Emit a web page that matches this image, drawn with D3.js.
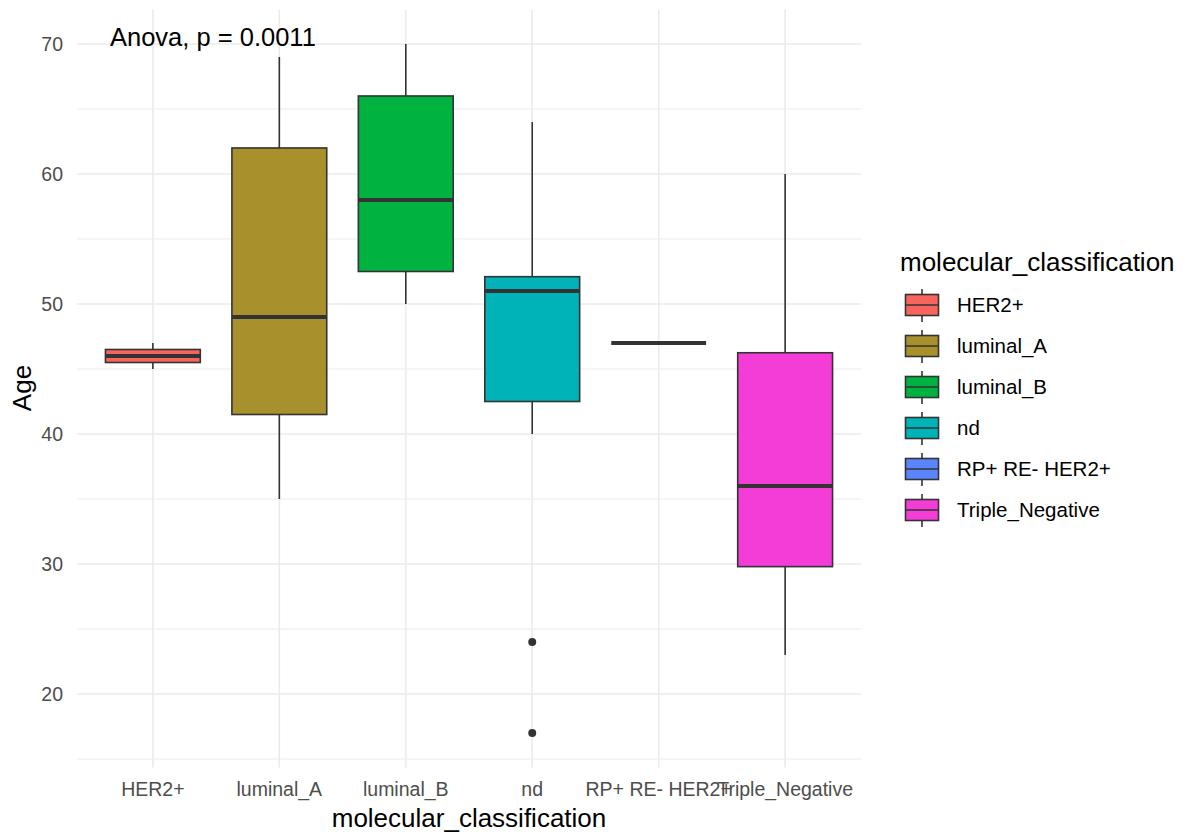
<!DOCTYPE html>
<html><head><meta charset="utf-8">
<script src="https://cdn.jsdelivr.net/npm/d3@7"></script>
<style>body{margin:0;background:#fff;font-family:"Liberation Sans",Arial,sans-serif;}</style>
</head><body><svg id="c" width="1194" height="835"></svg>
<script>
const categories = ["HER2+","luminal_A","luminal_B","nd","RP+ RE- HER2+","Triple_Negative"];
const colors = ["#F8655F","#A8912C","#00B240","#00B3B8","#5B85FF","#F43CD6"];
const ymin = [45, 35, 50, 40, 47, 23];
const q1 = [45.5, 41.5, 52.5, 42.5, 47, 29.8];
const median = [46, 49, 58, 51, 47, 36];
const q3 = [46.5, 62, 66, 52.1, 47, 46.25];
const ymax = [47, 69, 70, 64, 47, 60];
const outliers = [{cat:"nd", v:24},{cat:"nd", v:17}];
const yTicks = [20,30,40,50,60,70];
const annotation = "Anova, p = 0.0011";

const svg = d3.select("#c");
const L = 77, R = 861, T = 9.5, B = 767.5;
const x = d3.scalePoint().domain(categories).range([L,R]).padding(0.6);
const step = x.step();
const xc = d => x(d);
const y = d3.scaleLinear().domain([14.35,72.65]).range([B,T]);
const bw = step*0.75;

// grid
const g = svg.append("g");
const minor = d3.range(15,75,10);
g.selectAll(".mn").data(minor).join("line").attr("x1",L).attr("x2",R)
  .attr("y1",d=>y(d)).attr("y2",d=>y(d)).attr("stroke","#ebebeb").attr("stroke-width",1);
g.selectAll(".mj").data(yTicks).join("line").attr("x1",L).attr("x2",R)
  .attr("y1",d=>y(d)).attr("y2",d=>y(d)).attr("stroke","#ebebeb").attr("stroke-width",1.6);
g.selectAll(".vx").data(categories).join("line").attr("x1",d=>xc(d)).attr("x2",d=>xc(d))
  .attr("y1",T).attr("y2",B).attr("stroke","#ebebeb").attr("stroke-width",1.6);

// y axis labels
svg.append("g").selectAll("text").data(yTicks).join("text")
  .attr("x",63).attr("y",d=>y(d)).attr("dy","0.35em").attr("text-anchor","end")
  .attr("font-size",19.5).attr("fill","#4d4d4d").text(d=>d);
// x labels
svg.append("g").selectAll("text").data(categories).join("text")
  .attr("x",d=>xc(d)).attr("y",796).attr("text-anchor","middle")
  .attr("font-size",19.5).attr("fill","#4d4d4d").text(d=>d);
svg.append("text").attr("x",469).attr("y",827).attr("text-anchor","middle")
  .attr("font-size",26).attr("fill","#000").text("molecular_classification");
svg.append("text").attr("transform","translate(31,388) rotate(-90)").attr("text-anchor","middle")
  .attr("font-size",26).attr("fill","#000").text("Age");

// boxes
const data = categories.map((c,i)=>({c,col:colors[i],lo:ymin[i],q1:q1[i],md:median[i],q3:q3[i],hi:ymax[i]}));
const bx = svg.append("g");
data.forEach(d=>{
  const cx = xc(d.c);
  bx.append("line").attr("x1",cx).attr("x2",cx).attr("y1",y(d.hi)).attr("y2",y(d.q3)).attr("stroke","#333").attr("stroke-width",1.6);
  bx.append("line").attr("x1",cx).attr("x2",cx).attr("y1",y(d.q1)).attr("y2",y(d.lo)).attr("stroke","#333").attr("stroke-width",1.6);
  bx.append("rect").attr("x",cx-bw/2).attr("width",bw).attr("y",y(d.q3)).attr("height",Math.max(0,y(d.q1)-y(d.q3)))
    .attr("fill",d.col).attr("stroke","#333").attr("stroke-width",1.6);
  bx.append("line").attr("x1",cx-bw/2).attr("x2",cx+bw/2).attr("y1",y(d.md)).attr("y2",y(d.md)).attr("stroke","#333").attr("stroke-width",4.2);
});
bx.selectAll("circle").data(outliers).join("circle").attr("cx",d=>xc(d.cat)).attr("cy",d=>y(d.v)).attr("r",4).attr("fill","#333");

// annotation
svg.append("text").attr("x",110).attr("y",46).attr("font-size",25.5).attr("fill","#000").text(annotation);

// legend
const lg = svg.append("g");
lg.append("text").attr("x",900).attr("y",271).attr("font-size",26).attr("fill","#000").text("molecular_classification");
data.forEach((d,i)=>{
  const cy = 305 + i*41;
  const kx = 922;
  lg.append("line").attr("x1",kx).attr("x2",kx).attr("y1",cy-16).attr("y2",cy+17).attr("stroke","#333").attr("stroke-width",1.6);
  lg.append("rect").attr("x",kx-16.5).attr("y",cy-10.5).attr("width",33).attr("height",21).attr("fill",d.col).attr("stroke","#333").attr("stroke-width",1.6);
  lg.append("line").attr("x1",kx-16.5).attr("x2",kx+16.5).attr("y1",cy).attr("y2",cy).attr("stroke","#333").attr("stroke-width",1.6);
  lg.append("text").attr("x",957).attr("y",cy).attr("dy","0.35em").attr("font-size",20.5).attr("fill","#000").text(d.c);
});
</script></body></html>
